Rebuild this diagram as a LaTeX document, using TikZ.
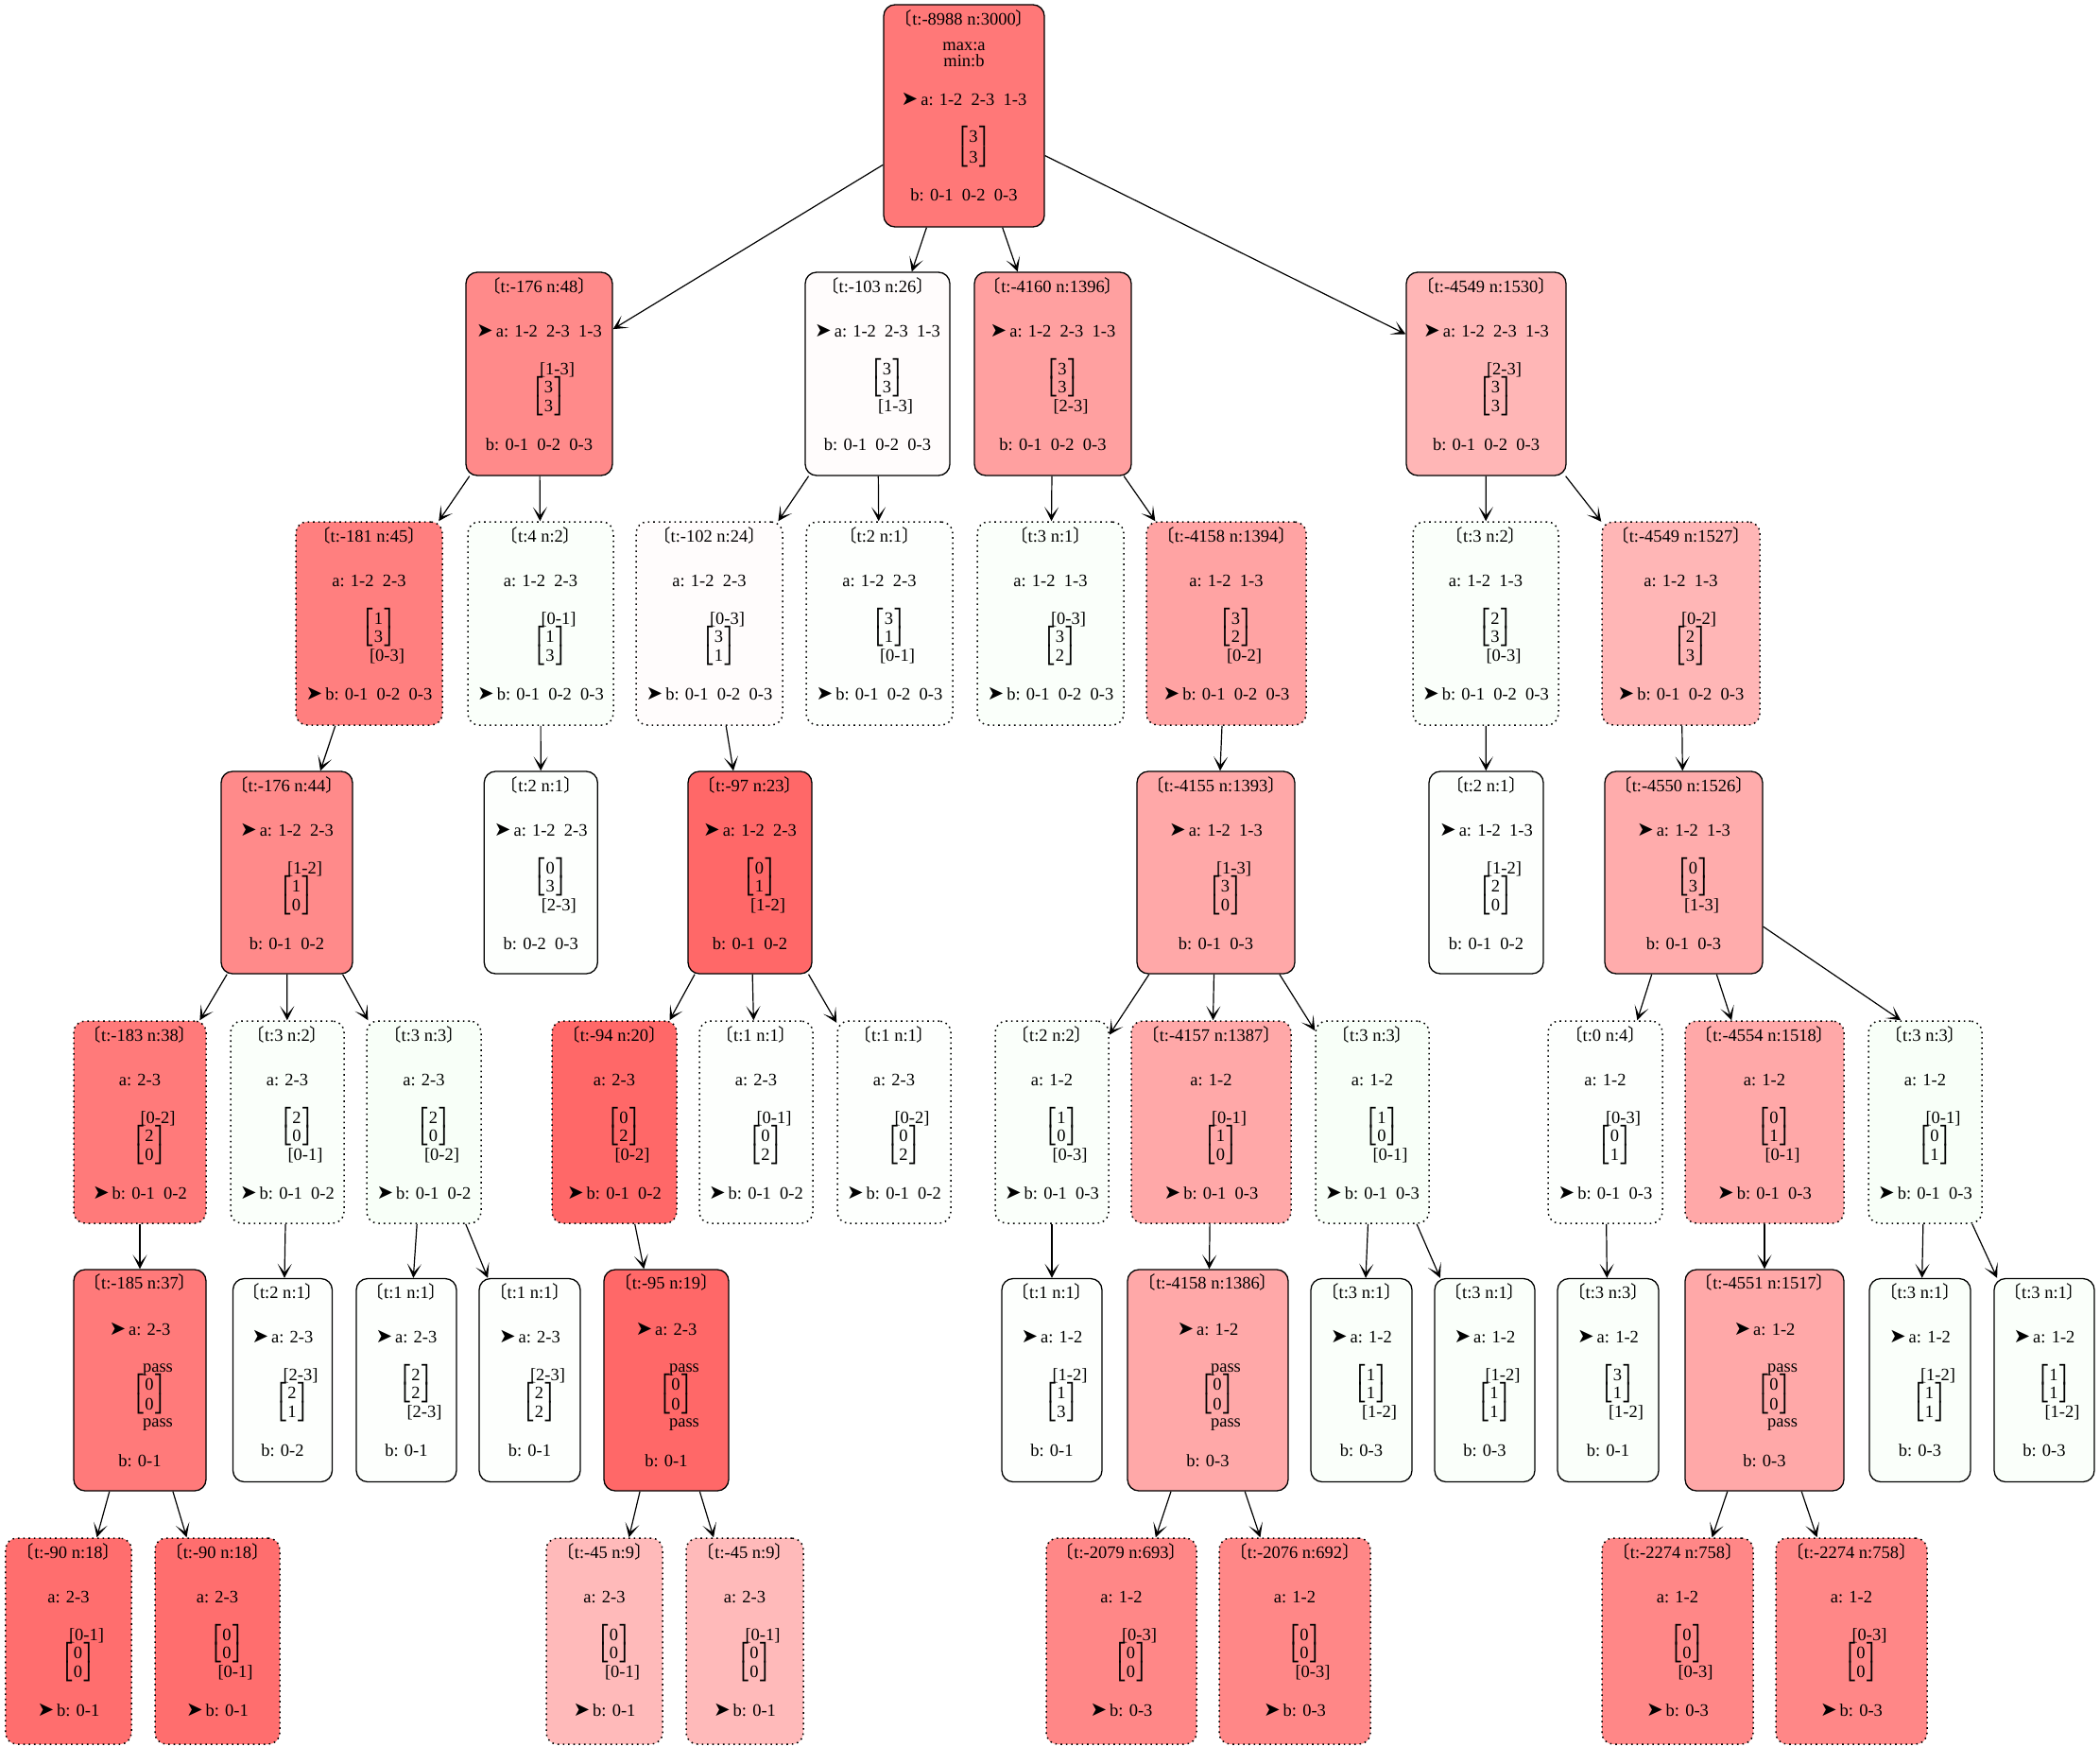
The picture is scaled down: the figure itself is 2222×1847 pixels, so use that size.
\documentclass[tikz,border=0pt]{standalone}
\usepackage{fontspec}
\setmainfont{Liberation Serif}
\newfontfamily\djv{DejaVu Sans}
\newfontfamily\cjk{Noto Sans CJK SC}
\usetikzlibrary{arrows.meta}
\newcommand\gap{~~}
\newcommand\arr{{\djv\fontsize{21bp}{21bp}\selectfont ➤}\hspace{3bp}}
\newcommand\hd[1]{{\cjk 〔}#1{\cjk 〕}}
\newcommand\tp[1]{\hspace*{20bp}{\djv ⎡}#1{\djv ⎤}}
\newcommand\bt[1]{\hspace*{20bp}{\djv ⎣}#1{\djv ⎦}}
\newcommand\rg[1]{\hspace*{38bp}#1}
\newcommand\Aiii{a: 1-2\gap 2-3\gap 1-3}
\newcommand\Biii{b: 0-1\gap 0-2\gap 0-3}
\newcommand\bx[7]{\node[#6, fill=#7, minimum width=#4bp, minimum height=#5bp] (#1) at (#2,#3) {};}
\newcommand\std[7]{%
\node[txt] (#1-h) at ([yshift=-22bp]#1.north) {\hd{#2}};%
\node[txt] (#1-a) at ([yshift=-69bp]#1.north) {#3};%
\node[txt] (#1-p) at ([yshift=-109bp]#1.north) {#4};%
\node[txt] (#1-q) at ([yshift=-128bp]#1.north) {#5};%
\node[txt] (#1-r) at ([yshift=-148bp]#1.north) {#6};%
\node[txt] (#1-b) at ([yshift=-189bp]#1.north) {#7};}
\newcommand\pas[5]{%
\node[txt] (#1-h) at ([yshift=-21bp]#1.north) {\hd{#2}};%
\node[txt] (#1-a) at ([yshift=-70bp]#1.north) {#3};%
\node[txt] (#1-p) at ([yshift=-109bp]#1.north) {\rg{pass}};%
\node[txt] (#1-q) at ([yshift=-128bp]#1.north) {\tp{#4}};%
\node[txt] (#1-r) at ([yshift=-149bp]#1.north) {\bt{#4}};%
\node[txt] (#1-s) at ([yshift=-167bp]#1.north) {\rg{pass}};%
\node[txt] (#1-b) at ([yshift=-209bp]#1.north) {#5};}
\definecolor{cR}{HTML}{FF7878}
\definecolor{cA1}{HTML}{FF8A8A}
\definecolor{cWr}{HTML}{FFFCFC}
\definecolor{cW1}{HTML}{FDFFFD}
\definecolor{cW2}{HTML}{FAFFFA}
\definecolor{cW3}{HTML}{F8FFF8}
\definecolor{cA3}{HTML}{FFA0A0}
\definecolor{cA4}{HTML}{FFB6B6}
\definecolor{cB1}{HTML}{FF7F7F}
\definecolor{cB6}{HTML}{FFA3A3}
\definecolor{cC3}{HTML}{FF6868}
\definecolor{cC4}{HTML}{FFA8A8}
\definecolor{cC6}{HTML}{FFACAC}
\definecolor{cD1}{HTML}{FF7A7A}
\definecolor{cF1}{HTML}{FF6E6E}
\definecolor{cF3}{HTML}{FFBABA}
\definecolor{cF5}{HTML}{FF8787}
\begin{document}
\begin{tikzpicture}[x=1bp,y=-1bp,
  box/.style={draw, rounded corners=12bp, line width=1.3bp, inner sep=0pt},
  sbox/.style={box},
  dbox/.style={box, line width=1.5bp, dash pattern=on 1.6bp off 4bp},
  txt/.style={inner sep=0pt, anchor=base, font=\fontsize{18.5bp}{20bp}\selectfont},
  conn/.style={line width=1.2bp, -{Stealth[length=15bp,width=15bp,inset=9bp]}}]
\useasboundingbox (0,0) rectangle (2222,1847);
\fill[white] (0,0) rectangle (2222,1847);
% boxes
\bx{R}{1020}{122.5}{170}{235}{sbox}{cR}
\bx{A1}{570.5}{395.5}{155}{215}{sbox}{cA1}
\bx{A2}{928.5}{395.5}{153}{215}{sbox}{cWr}
\bx{A3}{1114}{395.5}{166}{215}{sbox}{cA3}
\bx{A4}{1572.5}{395.5}{169}{215}{sbox}{cA4}
\bx{B1}{390.5}{659.5}{155}{215}{dbox}{cB1}
\bx{B2}{572}{659.5}{154}{215}{dbox}{cW2}
\bx{B3}{750.5}{659.5}{155}{215}{dbox}{cWr}
\bx{B4}{930.5}{659.5}{155}{215}{dbox}{cW1}
\bx{B5}{1111.5}{659.5}{155}{215}{dbox}{cW2}
\bx{B6}{1297.5}{659.5}{169}{215}{dbox}{cB6}
\bx{B7}{1572}{659.5}{154}{215}{dbox}{cW2}
\bx{B8}{1778.5}{659.5}{167}{215}{dbox}{cA4}
\bx{C1}{303.5}{923}{139}{214}{sbox}{cA1}
\bx{C2}{572.3}{923}{120}{214}{sbox}{cW1}
\bx{C3}{793.5}{923}{131}{214}{sbox}{cC3}
\bx{C4}{1286.5}{923}{167}{214}{sbox}{cC4}
\bx{C5}{1572.5}{923}{121}{214}{sbox}{cW1}
\bx{C6}{1781.5}{923}{167}{214}{sbox}{cC6}
\bx{D1}{148}{1187}{140}{214}{dbox}{cD1}
\bx{D2}{304}{1187}{120}{214}{dbox}{cW2}
\bx{D3}{448.5}{1187}{121}{214}{dbox}{cW3}
\bx{D4}{650}{1187}{132}{214}{dbox}{cC3}
\bx{D5}{800}{1187}{120}{214}{dbox}{cW1}
\bx{D6}{946}{1187}{120}{214}{dbox}{cW1}
\bx{D7}{1113}{1187}{120}{214}{dbox}{cW2}
\bx{D8}{1281.5}{1187}{169}{214}{dbox}{cC4}
\bx{D9}{1452}{1187}{120}{214}{dbox}{cW3}
\bx{D10}{1698.5}{1187}{121}{214}{dbox}{cW1}
\bx{D11}{1867}{1187}{168}{214}{dbox}{cC4}
\bx{D12}{2037}{1187}{120}{214}{dbox}{cW3}
\bx{E1}{148}{1460}{140}{234}{sbox}{cD1}
\bx{E2}{299}{1460}{105}{215}{sbox}{cW1}
\bx{E3}{430}{1460}{106}{215}{sbox}{cW1}
\bx{E4}{560.5}{1460}{107}{215}{sbox}{cW1}
\bx{E5}{705}{1460}{132}{234}{sbox}{cC3}
\bx{E6}{1113}{1460}{106}{215}{sbox}{cW1}
\bx{E7}{1278}{1460}{170}{234}{sbox}{cC4}
\bx{E8}{1440.5}{1460}{107}{215}{sbox}{cW2}
\bx{E9}{1571}{1460}{106}{215}{sbox}{cW2}
\bx{E10}{1701.5}{1460}{107}{215}{sbox}{cW2}
\bx{E11}{1867}{1460}{168}{234}{sbox}{cC4}
\bx{E12}{2031.5}{1460}{107}{215}{sbox}{cW2}
\bx{E13}{2163}{1460}{106}{215}{sbox}{cW2}
\bx{F1}{72.5}{1736}{133}{218}{dbox}{cF1}
\bx{F2}{230}{1736}{132}{218}{dbox}{cF1}
\bx{F3}{639.5}{1736}{123}{218}{dbox}{cF3}
\bx{F4}{788}{1736}{124}{218}{dbox}{cF3}
\bx{F5}{1186.5}{1736}{159}{218}{dbox}{cF5}
\bx{F6}{1370}{1736}{160}{218}{dbox}{cF5}
\bx{F7}{1775}{1736}{160}{218}{dbox}{cF5}
\bx{F8}{1959}{1736}{160}{218}{dbox}{cF5}
% root text
\node[txt] (R-h) at ([yshift=-22bp]R.north) {\hd{t:-8988 n:3000}};
\node[txt] (R-m) at ([yshift=-49bp]R.north) {max:a};
\node[txt] (R-n) at ([yshift=-66bp]R.north) {min:b};
\node[txt] (R-a) at ([yshift=-107bp]R.north) {\arr\Aiii};
\node[txt] (R-p) at ([yshift=-146bp]R.north) {\tp{3}};
\node[txt] (R-q) at ([yshift=-168bp]R.north) {\bt{3}};
\node[txt] (R-b) at ([yshift=-208bp]R.north) {\Biii};
% row A
\std{A1}{t:-176 n:48}{\arr\Aiii}{\rg{[1-3]}}{\tp{3}}{\bt{3}}{\Biii}
\std{A2}{t:-103 n:26}{\arr\Aiii}{\tp{3}}{\bt{3}}{\rg{[1-3]}}{\Biii}
\std{A3}{t:-4160 n:1396}{\arr\Aiii}{\tp{3}}{\bt{3}}{\rg{[2-3]}}{\Biii}
\std{A4}{t:-4549 n:1530}{\arr\Aiii}{\rg{[2-3]}}{\tp{3}}{\bt{3}}{\Biii}
% row B
\std{B1}{t:-181 n:45}{a: 1-2\gap 2-3}{\tp{1}}{\bt{3}}{\rg{[0-3]}}{\arr\Biii}
\std{B2}{t:4 n:2}{a: 1-2\gap 2-3}{\rg{[0-1]}}{\tp{1}}{\bt{3}}{\arr\Biii}
\std{B3}{t:-102 n:24}{a: 1-2\gap 2-3}{\rg{[0-3]}}{\tp{3}}{\bt{1}}{\arr\Biii}
\std{B4}{t:2 n:1}{a: 1-2\gap 2-3}{\tp{3}}{\bt{1}}{\rg{[0-1]}}{\arr\Biii}
\std{B5}{t:3 n:1}{a: 1-2\gap 1-3}{\rg{[0-3]}}{\tp{3}}{\bt{2}}{\arr\Biii}
\std{B6}{t:-4158 n:1394}{a: 1-2\gap 1-3}{\tp{3}}{\bt{2}}{\rg{[0-2]}}{\arr\Biii}
\std{B7}{t:3 n:2}{a: 1-2\gap 1-3}{\tp{2}}{\bt{3}}{\rg{[0-3]}}{\arr\Biii}
\std{B8}{t:-4549 n:1527}{a: 1-2\gap 1-3}{\rg{[0-2]}}{\tp{2}}{\bt{3}}{\arr\Biii}
% row C
\std{C1}{t:-176 n:44}{\arr a: 1-2\gap 2-3}{\rg{[1-2]}}{\tp{1}}{\bt{0}}{b: 0-1\gap 0-2}
\std{C2}{t:2 n:1}{\arr a: 1-2\gap 2-3}{\tp{0}}{\bt{3}}{\rg{[2-3]}}{b: 0-2\gap 0-3}
\std{C3}{t:-97 n:23}{\arr a: 1-2\gap 2-3}{\tp{0}}{\bt{1}}{\rg{[1-2]}}{b: 0-1\gap 0-2}
\std{C4}{t:-4155 n:1393}{\arr a: 1-2\gap 1-3}{\rg{[1-3]}}{\tp{3}}{\bt{0}}{b: 0-1\gap 0-3}
\std{C5}{t:2 n:1}{\arr a: 1-2\gap 1-3}{\rg{[1-2]}}{\tp{2}}{\bt{0}}{b: 0-1\gap 0-2}
\std{C6}{t:-4550 n:1526}{\arr a: 1-2\gap 1-3}{\tp{0}}{\bt{3}}{\rg{[1-3]}}{b: 0-1\gap 0-3}
% row D
\std{D1}{t:-183 n:38}{a: 2-3}{\rg{[0-2]}}{\tp{2}}{\bt{0}}{\arr b: 0-1\gap 0-2}
\std{D2}{t:3 n:2}{a: 2-3}{\tp{2}}{\bt{0}}{\rg{[0-1]}}{\arr b: 0-1\gap 0-2}
\std{D3}{t:3 n:3}{a: 2-3}{\tp{2}}{\bt{0}}{\rg{[0-2]}}{\arr b: 0-1\gap 0-2}
\std{D4}{t:-94 n:20}{a: 2-3}{\tp{0}}{\bt{2}}{\rg{[0-2]}}{\arr b: 0-1\gap 0-2}
\std{D5}{t:1 n:1}{a: 2-3}{\rg{[0-1]}}{\tp{0}}{\bt{2}}{\arr b: 0-1\gap 0-2}
\std{D6}{t:1 n:1}{a: 2-3}{\rg{[0-2]}}{\tp{0}}{\bt{2}}{\arr b: 0-1\gap 0-2}
\std{D7}{t:2 n:2}{a: 1-2}{\tp{1}}{\bt{0}}{\rg{[0-3]}}{\arr b: 0-1\gap 0-3}
\std{D8}{t:-4157 n:1387}{a: 1-2}{\rg{[0-1]}}{\tp{1}}{\bt{0}}{\arr b: 0-1\gap 0-3}
\std{D9}{t:3 n:3}{a: 1-2}{\tp{1}}{\bt{0}}{\rg{[0-1]}}{\arr b: 0-1\gap 0-3}
\std{D10}{t:0 n:4}{a: 1-2}{\rg{[0-3]}}{\tp{0}}{\bt{1}}{\arr b: 0-1\gap 0-3}
\std{D11}{t:-4554 n:1518}{a: 1-2}{\tp{0}}{\bt{1}}{\rg{[0-1]}}{\arr b: 0-1\gap 0-3}
\std{D12}{t:3 n:3}{a: 1-2}{\rg{[0-1]}}{\tp{0}}{\bt{1}}{\arr b: 0-1\gap 0-3}
% row E
\pas{E1}{t:-185 n:37}{\arr a: 2-3}{0}{b: 0-1}
\std{E2}{t:2 n:1}{\arr a: 2-3}{\rg{[2-3]}}{\tp{2}}{\bt{1}}{b: 0-2}
\std{E3}{t:1 n:1}{\arr a: 2-3}{\tp{2}}{\bt{2}}{\rg{[2-3]}}{b: 0-1}
\std{E4}{t:1 n:1}{\arr a: 2-3}{\rg{[2-3]}}{\tp{2}}{\bt{2}}{b: 0-1}
\pas{E5}{t:-95 n:19}{\arr a: 2-3}{0}{b: 0-1}
\std{E6}{t:1 n:1}{\arr a: 1-2}{\rg{[1-2]}}{\tp{1}}{\bt{3}}{b: 0-1}
\pas{E7}{t:-4158 n:1386}{\arr a: 1-2}{0}{b: 0-3}
\std{E8}{t:3 n:1}{\arr a: 1-2}{\tp{1}}{\bt{1}}{\rg{[1-2]}}{b: 0-3}
\std{E9}{t:3 n:1}{\arr a: 1-2}{\rg{[1-2]}}{\tp{1}}{\bt{1}}{b: 0-3}
\std{E10}{t:3 n:3}{\arr a: 1-2}{\tp{3}}{\bt{1}}{\rg{[1-2]}}{b: 0-1}
\pas{E11}{t:-4551 n:1517}{\arr a: 1-2}{0}{b: 0-3}
\std{E12}{t:3 n:1}{\arr a: 1-2}{\rg{[1-2]}}{\tp{1}}{\bt{1}}{b: 0-3}
\std{E13}{t:3 n:1}{\arr a: 1-2}{\tp{1}}{\bt{1}}{\rg{[1-2]}}{b: 0-3}
% row F
\std{F1}{t:-90 n:18}{a: 2-3}{\rg{[0-1]}}{\tp{0}}{\bt{0}}{\arr b: 0-1}
\std{F2}{t:-90 n:18}{a: 2-3}{\tp{0}}{\bt{0}}{\rg{[0-1]}}{\arr b: 0-1}
\std{F3}{t:-45 n:9}{a: 2-3}{\tp{0}}{\bt{0}}{\rg{[0-1]}}{\arr b: 0-1}
\std{F4}{t:-45 n:9}{a: 2-3}{\rg{[0-1]}}{\tp{0}}{\bt{0}}{\arr b: 0-1}
\std{F5}{t:-2079 n:693}{a: 1-2}{\rg{[0-3]}}{\tp{0}}{\bt{0}}{\arr b: 0-3}
\std{F6}{t:-2076 n:692}{a: 1-2}{\tp{0}}{\bt{0}}{\rg{[0-3]}}{\arr b: 0-3}
\std{F7}{t:-2274 n:758}{a: 1-2}{\tp{0}}{\bt{0}}{\rg{[0-3]}}{\arr b: 0-3}
\std{F8}{t:-2274 n:758}{a: 1-2}{\rg{[0-3]}}{\tp{0}}{\bt{0}}{\arr b: 0-3}
% connectors
\foreach \s/\t in {R/A1,R/A2,R/A3,R/A4,A1/B1,A1/B2,A2/B3,A2/B4,A3/B5,A3/B6,A4/B7,A4/B8,
  B1/C1,B2/C2,B3/C3,B6/C4,B7/C5,B8/C6,
  C1/D1,C1/D2,C1/D3,C3/D4,C3/D5,C3/D6,C4/D7,C4/D8,C4/D9,C6/D10,C6/D11,
  D1/E1,D2/E2,D3/E3,D3/E4,D4/E5,D7/E6,D8/E7,D9/E8,D9/E9,D10/E10,D11/E11,D12/E12,D12/E13,
  E1/F1,E1/F2,E5/F3,E5/F4,E7/F5,E7/F6,E11/F7,E11/F8}
  \draw[conn] (\s) -- (\t);
\coordinate (D12in) at ([xshift=35bp]D12.north west);
\draw[conn] (C6) -- (D12in);
\end{tikzpicture}
\end{document}
